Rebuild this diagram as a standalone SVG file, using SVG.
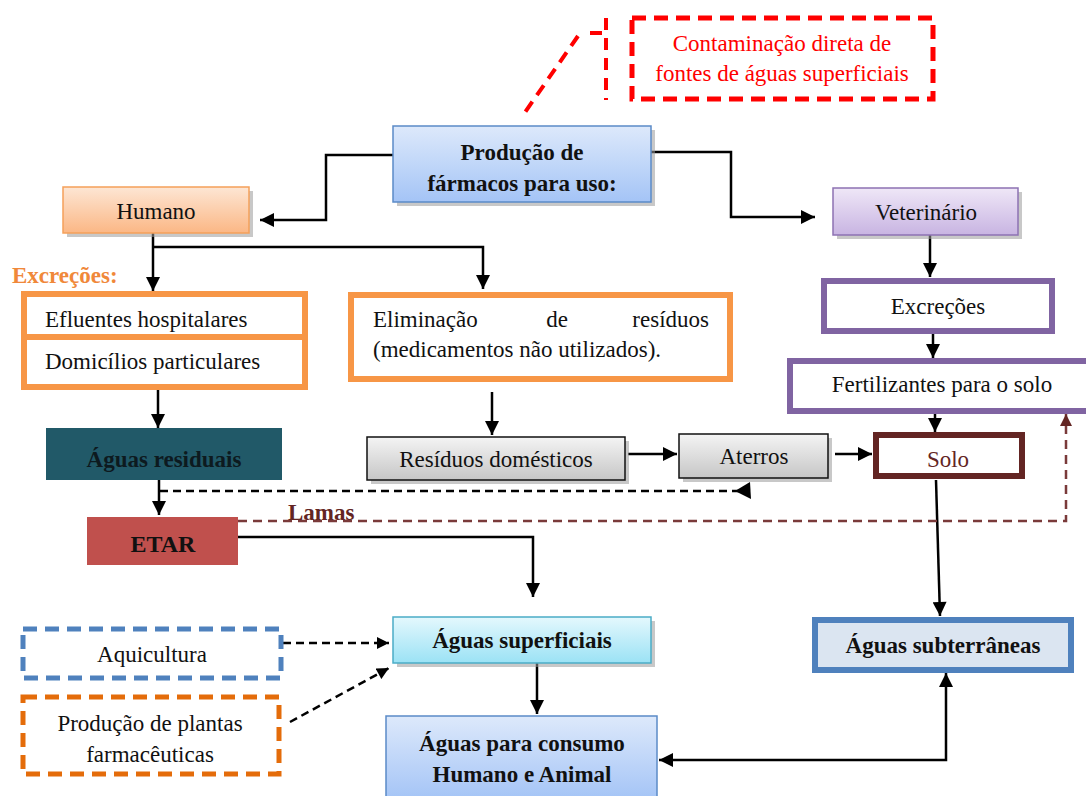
<svg xmlns="http://www.w3.org/2000/svg" width="1086" height="796" viewBox="0 0 1086 796" font-family="'Liberation Serif', 'Times New Roman', serif">
<defs>
<linearGradient id="gBlue" x1="0" y1="0" x2="0" y2="1"><stop offset="0" stop-color="#dde9fb"/><stop offset="1" stop-color="#a4c4f6"/></linearGradient>
<linearGradient id="gOrange" x1="0" y1="0" x2="0" y2="1"><stop offset="0" stop-color="#fde6d4"/><stop offset="1" stop-color="#fbb785"/></linearGradient>
<linearGradient id="gPurple" x1="0" y1="0" x2="0" y2="1"><stop offset="0" stop-color="#efe7f7"/><stop offset="1" stop-color="#c8b4e2"/></linearGradient>
<linearGradient id="gGray" x1="0" y1="0" x2="0" y2="1"><stop offset="0" stop-color="#f4f4f4"/><stop offset="1" stop-color="#c6c6c6"/></linearGradient>
<linearGradient id="gCyan" x1="0" y1="0" x2="0" y2="1"><stop offset="0" stop-color="#e4f8fd"/><stop offset="1" stop-color="#9be2f5"/></linearGradient>
<marker id="ah" viewBox="0 0 10 10" refX="10" refY="5" markerWidth="15" markerHeight="14" markerUnits="userSpaceOnUse" orient="auto-start-reverse"><path d="M0,0 L10,5 L0,10 Z" fill="#000"/></marker>
<marker id="ahs" viewBox="0 0 10 10" refX="10" refY="5" markerWidth="13" markerHeight="12" markerUnits="userSpaceOnUse" orient="auto"><path d="M0,0 L10,5 L0,10 Z" fill="#000"/></marker>
<marker id="ahb" viewBox="0 0 10 10" refX="10" refY="5" markerWidth="13" markerHeight="12" markerUnits="userSpaceOnUse" orient="auto"><path d="M0,0 L10,5 L0,10 Z" fill="#632523"/></marker>
</defs>
<style>
text{font-family:"Liberation Serif","Times New Roman",serif;fill:#111;}
.t{font-size:23px;}
.b{font-size:23px;font-weight:bold;}
.c{text-anchor:middle;}
.shadow{fill:#9a9a9a;opacity:0.55;}
.ln{fill:none;stroke:#000;stroke-width:2.5;}
.dl{fill:none;stroke:#000;stroke-width:2.5;stroke-dasharray:8,5;}
</style>
<rect width="1086" height="796" fill="#fff"/>

<g id="connectors">
<path class="ln" d="M393,155 H326 V220 H260" marker-end="url(#ah)"/>
<path class="ln" d="M651,152 H731 V217 H815" marker-end="url(#ah)"/>
<path class="ln" d="M153,233 V291" marker-end="url(#ah)"/>
<path class="ln" d="M153,247 H483 V289" marker-end="url(#ah)"/>
<path class="ln" d="M158,390 V428" marker-end="url(#ah)"/>
<path class="ln" d="M159,478 V515" marker-end="url(#ah)"/>
<path class="ln" d="M492,392 V435" marker-end="url(#ah)"/>
<path class="ln" d="M628,454 H677" marker-end="url(#ah)"/>
<path class="ln" d="M835,454 H872" marker-end="url(#ah)"/>
<path class="ln" d="M930,235 V277" marker-end="url(#ah)"/>
<path class="ln" d="M933,333 V358" marker-end="url(#ah)"/>
<path class="ln" d="M935,413 V432" marker-end="url(#ah)"/>
<path class="ln" d="M936,480 L940,616" marker-end="url(#ah)"/>
<path class="ln" d="M238,537 H533 V597" marker-end="url(#ah)"/>
<path class="ln" d="M537,663 V714" marker-end="url(#ah)"/>
<path class="ln" d="M946,673 V760 H659" marker-start="url(#ah)" marker-end="url(#ah)"/>
<path class="dl" d="M283,643 H389" marker-end="url(#ahs)"/>
<path class="dl" d="M290,722 L389,668" marker-end="url(#ahs)"/>
<path class="dl" d="M160,491 H740"/>
<polygon points="750,482 751,499 735,491" fill="#000"/>
<g fill="none" stroke="#ff0000" stroke-width="4" stroke-dasharray="12,8">
<path d="M606,18 V100"/>
<path d="M590,33 H606"/>
<path d="M578,36 L521,118"/>
</g>
</g>

<g id="contaminacao">
<rect x="632" y="18" width="301" height="81" fill="#fff" stroke="#ff0000" stroke-width="5" stroke-dasharray="14,8"/>
<text class="t c" x="782" y="51" style="fill:#ff0000">Contaminação direta de</text>
<text class="t c" x="782" y="81" style="fill:#ff0000">fontes de águas superficiais</text>
</g>

<g id="producao">
<rect class="shadow" x="397" y="130" width="258" height="76"/>
<rect x="393" y="126" width="258" height="76" fill="url(#gBlue)" stroke="#5b8bc7" stroke-width="1.5"/>
<text class="b c" x="522" y="160">Produção de</text>
<text class="b c" x="522" y="191">fármacos para uso:</text>
</g>

<g id="humano">
<rect class="shadow" x="67" y="191" width="186" height="46"/>
<rect x="63" y="187" width="186" height="46" fill="url(#gOrange)" stroke="#f5a05a" stroke-width="1.5"/>
<text class="t c" x="156" y="219">Humano</text>
</g>

<g id="veterinario">
<rect class="shadow" x="837" y="192" width="185" height="47"/>
<rect x="833" y="188" width="185" height="47" fill="url(#gPurple)" stroke="#8d72b3" stroke-width="1.5"/>
<text class="t c" x="926" y="220">Veterinário</text>
</g>

<text x="12" y="283" style="font-size:23px;font-weight:bold;fill:#f0883a">Excreções:</text>

<g id="efluentes">
<rect x="24" y="294" width="281" height="43" fill="#fff" stroke="#f79646" stroke-width="6"/>
<text class="t" x="45" y="327">Efluentes hospitalares</text>
</g>
<g id="domicilios">
<rect x="24" y="337" width="281" height="50" fill="#fff" stroke="#f79646" stroke-width="6"/>
<text class="t" x="45" y="369">Domicílios particulares</text>
</g>

<g id="eliminacao">
<rect x="351" y="295" width="379" height="84" fill="#fff" stroke="#f79646" stroke-width="6"/>
<text class="t" x="373" y="327">Eliminação</text>
<text class="t c" x="557" y="327">de</text>
<text class="t" x="709" y="327" text-anchor="end">resíduos</text>
<text class="t" x="373" y="357">(medicamentos não utilizados).</text>
</g>

<g id="excrecoes">
<rect x="824" y="281" width="228" height="50" fill="#fff" stroke="#8064a2" stroke-width="6"/>
<text class="t c" x="938" y="314">Excreções</text>
</g>

<g id="fertilizantes">
<rect x="790" y="361" width="300" height="50" fill="#fff" stroke="#8064a2" stroke-width="6"/>
<text class="t c" x="942" y="392">Fertilizantes para o solo</text>
</g>

<g id="aguas-residuais">
<rect x="46" y="428" width="236" height="52" fill="#215968"/>
<text class="b c" x="164" y="467" style="fill:#0d1a1f">Águas residuais</text>
</g>

<g id="residuos">
<rect class="shadow" x="371" y="441" width="258" height="43"/>
<rect x="367" y="437" width="258" height="43" fill="url(#gGray)" stroke="#111" stroke-width="1.5"/>
<text class="t c" x="496" y="467">Resíduos domésticos</text>
</g>

<g id="aterros">
<rect class="shadow" x="683" y="438" width="149" height="44"/>
<rect x="679" y="434" width="149" height="44" fill="url(#gGray)" stroke="#111" stroke-width="1.5"/>
<text class="t c" x="754" y="464">Aterros</text>
</g>

<g id="solo">
<rect x="876" y="435" width="146" height="41" fill="#fff" stroke="#632523" stroke-width="6"/>
<text class="t c" x="948" y="467" style="fill:#632523">Solo</text>
</g>

<text x="288" y="520" style="font-size:23px;font-weight:bold;fill:#632523">Lamas</text>

<g id="etar">
<rect x="87" y="517" width="151" height="48" fill="#c0504d"/>
<text class="b c" x="163" y="552" style="font-size:24px">ETAR</text>
</g>

<g id="aquicultura">
<rect x="23" y="629" width="258" height="49" fill="#fff" stroke="#4f81bd" stroke-width="5" stroke-dasharray="14,8"/>
<text class="t c" x="152" y="662">Aquicultura</text>
</g>

<g id="plantas">
<rect x="23" y="697" width="256" height="77" fill="#fff" stroke="#e46c0a" stroke-width="5" stroke-dasharray="14,8"/>
<text class="t c" x="150" y="731">Produção de plantas</text>
<text class="t c" x="150" y="762">farmacêuticas</text>
</g>

<g id="superficiais">
<rect class="shadow" x="397" y="621" width="258" height="46"/>
<rect x="393" y="617" width="258" height="46" fill="url(#gCyan)" stroke="#4bacc6" stroke-width="1.5"/>
<text class="b c" x="522" y="648">Águas superficiais</text>
</g>

<g id="subterraneas">
<rect x="815" y="620" width="256" height="50" fill="#dbe5f1" stroke="#4f81bd" stroke-width="6"/>
<text class="b c" x="943" y="653">Águas subterrâneas</text>
</g>

<g id="consumo">
<rect x="386" y="716" width="271" height="84" fill="url(#gBlue)" stroke="#5b8bc7" stroke-width="1.5"/>
<text class="b c" x="522" y="751">Águas para consumo</text>
<text class="b c" x="522" y="782">Humano e Animal</text>
</g>

<g id="lamas-connector">
<path fill="none" stroke="#7a3a3a" stroke-width="2.5" stroke-dasharray="9,6" d="M238,521 H1066 V414" marker-end="url(#ahb)"/>
</g>
</svg>
